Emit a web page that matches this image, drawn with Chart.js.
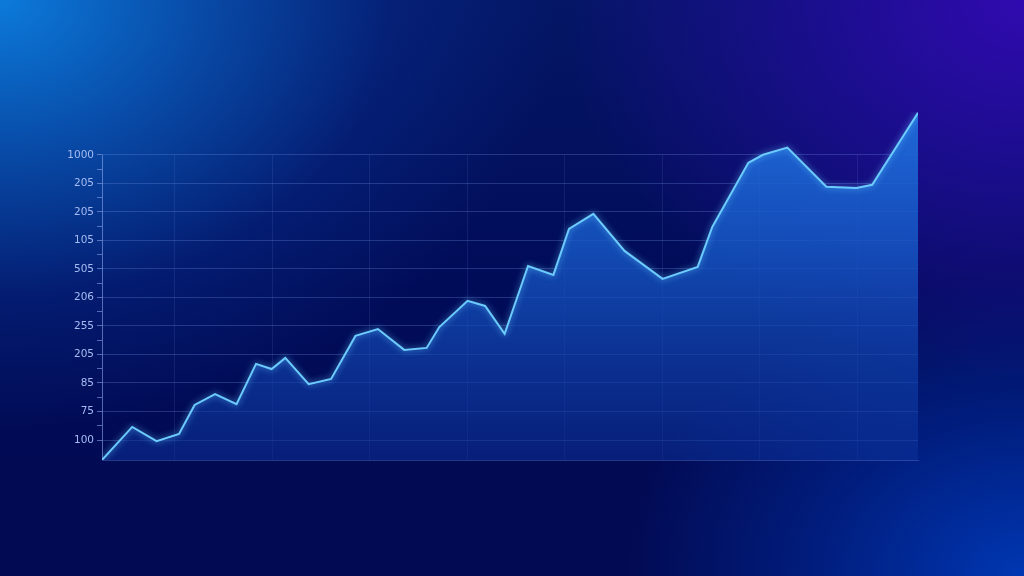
<!DOCTYPE html>
<html>
<head>
<meta charset="utf-8">
<script src="https://cdn.jsdelivr.net/npm/chart.js@4.4.1/dist/chart.umd.min.js"></script>
<style>
  html, body { margin: 0; padding: 0; }
  body {
    width: 1024px; height: 576px; overflow: hidden;
    background:
      radial-gradient(ellipse 560px 430px at 0px 0px, rgba(12,122,218,1) 0%, rgba(9,85,180,0.85) 35%, rgba(6,45,140,0.45) 70%, rgba(4,25,110,0) 100%),
      radial-gradient(ellipse 460px 380px at 1024px 0px, rgba(48,10,175,1) 0%, rgba(34,12,155,0.75) 45%, rgba(20,10,120,0) 100%),
      radial-gradient(ellipse 400px 300px at 1024px 576px, rgba(0,55,178,1) 0%, rgba(0,40,150,0.6) 55%, rgba(0,20,110,0) 100%),
      linear-gradient(180deg, #041665 0%, #010c58 50%, #020a52 100%);
  }
  #wrap { position: absolute; left: 0; top: 0; width: 1024px; height: 576px; }
</style>
</head>
<body>
<div id="wrap"><canvas id="areaChart" width="1024" height="576"></canvas></div>
<script>
// Data (x = day, y = position on the labelled axis)
const xDays = [2.6, 5.7, 8.2, 10.5, 12.1, 14.2, 16.4, 18.4, 20.0, 21.4, 23.8, 26.1, 28.6, 30.9, 33.6,
  35.9, 37.2, 40.1, 41.9, 43.9, 46.3, 48.9, 50.5, 53.0, 56.2, 60.1, 63.7, 65.2, 68.9, 70.4, 72.9,
  76.9, 80.0, 81.6, 86.3];
const yValues = [-0.7, 0.46, -0.04, 0.21, 1.23, 1.61, 1.26, 2.67, 2.49, 2.88, 1.96, 2.14, 3.65, 3.89, 3.16,
  3.23, 3.96, 4.88, 4.70, 3.72, 6.10, 5.79, 7.40, 7.93, 6.63, 5.65, 6.07, 7.47, 9.72, 10.0, 10.25,
  8.88, 8.84, 8.95, 11.47];
// tick labels, bottom to top
const yTickLabels = ['100', '75', '85', '205', '255', '206', '505', '105', '205', '205', '1000'];
// vertical grid positions
const xGridDays = [10, 20, 30, 40, 50, 60, 70, 80];

const points = xDays.map((x, i) => ({ x: x, y: yValues[i] }));
const topTick = yTickLabels.length - 1;

// Function to make the area fill gradient
function fillGradient(context) {
    const chart = context.chart;
    const area = chart.chartArea;
    if (!area) return 'rgba(25,90,200,0.8)';
    const g = chart.ctx.createLinearGradient(0, area.top, 0, area.bottom);
    g.addColorStop(0, 'rgba(32,110,220,0.95)');
    g.addColorStop(0.4, 'rgba(22,88,198,0.82)');
    g.addColorStop(1, 'rgba(12,48,152,0.55)');
    return g;
}

// axis line and vertical grid only up to the top tick, glow on the line
const framePlugin = {
    id: 'frame',
    beforeDatasetsDraw(chart) {
        const c = chart.ctx, x = chart.scales.x, y = chart.scales.y;
        const top = y.getPixelForValue(topTick), bottom = chart.chartArea.bottom;
        c.save();
        c.lineWidth = 1;
        c.strokeStyle = 'rgba(110,140,230,0.14)';
        xGridDays.forEach(d => {
            const px = Math.round(x.getPixelForValue(d)) + 0.5;
            c.beginPath(); c.moveTo(px, top); c.lineTo(px, bottom); c.stroke();
        });
        c.strokeStyle = 'rgba(140,165,235,0.6)';
        const lx = Math.round(chart.chartArea.left) + 0.5;
        c.beginPath(); c.moveTo(lx, top); c.lineTo(lx, bottom); c.stroke();
        c.restore();
    },
    beforeDatasetDraw(chart) {
        chart.ctx.save();
        chart.ctx.shadowColor = 'rgba(100,200,255,0.8)';
        chart.ctx.shadowBlur = 6;
    },
    afterDatasetDraw(chart) {
        chart.ctx.restore();
    }
};

const ctx = document.getElementById('areaChart').getContext('2d');
window.myChart = new Chart(ctx, {
    type: 'line',
    data: {
        datasets: [{
            data: points,
            borderColor: '#6ccbff',
            borderWidth: 2,
            backgroundColor: fillGradient,
            fill: 'start',
            pointRadius: 0,
            tension: 0
        }]
    },
    plugins: [framePlugin],
    options: {
        responsive: false,
        animation: false,
        layout: {
            padding: { left: 0, right: 106, top: 112, bottom: 116 }
        },
        plugins: {
            legend: { display: false },
            tooltip: { enabled: false }
        },
        scales: {
            x: {
                type: 'linear',
                min: 2.6,
                max: 86.3,
                ticks: { display: false },
                grid: { display: false, drawTicks: false },
                border: { display: true, color: 'rgba(110,140,230,0.35)', width: 1 }
            },
            y: {
                type: 'linear',
                min: -0.7,
                max: 11.5,
                afterBuildTicks: function (scale) {
                    const t = [];
                    for (let v = 0; v <= topTick; v += 0.5) t.push({ value: v });
                    scale.ticks = t;
                },
                afterFit: function (scale) {
                    scale.width = 102; // axis line sits at x = 102
                },
                ticks: {
                    color: '#a6bcf2',
                    padding: 3,
                    font: { family: 'DejaVu Sans', size: 10.5 },
                    callback: function (value) {
                        return Number.isInteger(value) ? yTickLabels[value] : '';
                    }
                },
                grid: {
                    color: function (c) {
                        return c.tick && Number.isInteger(c.tick.value) ? 'rgba(120,150,235,0.28)' : 'rgba(0,0,0,0)';
                    },
                    tickColor: 'rgba(140,165,235,0.6)',
                    tickLength: 5
                },
                border: { display: false }
            }
        }
    }
});
</script>
</body>
</html>
